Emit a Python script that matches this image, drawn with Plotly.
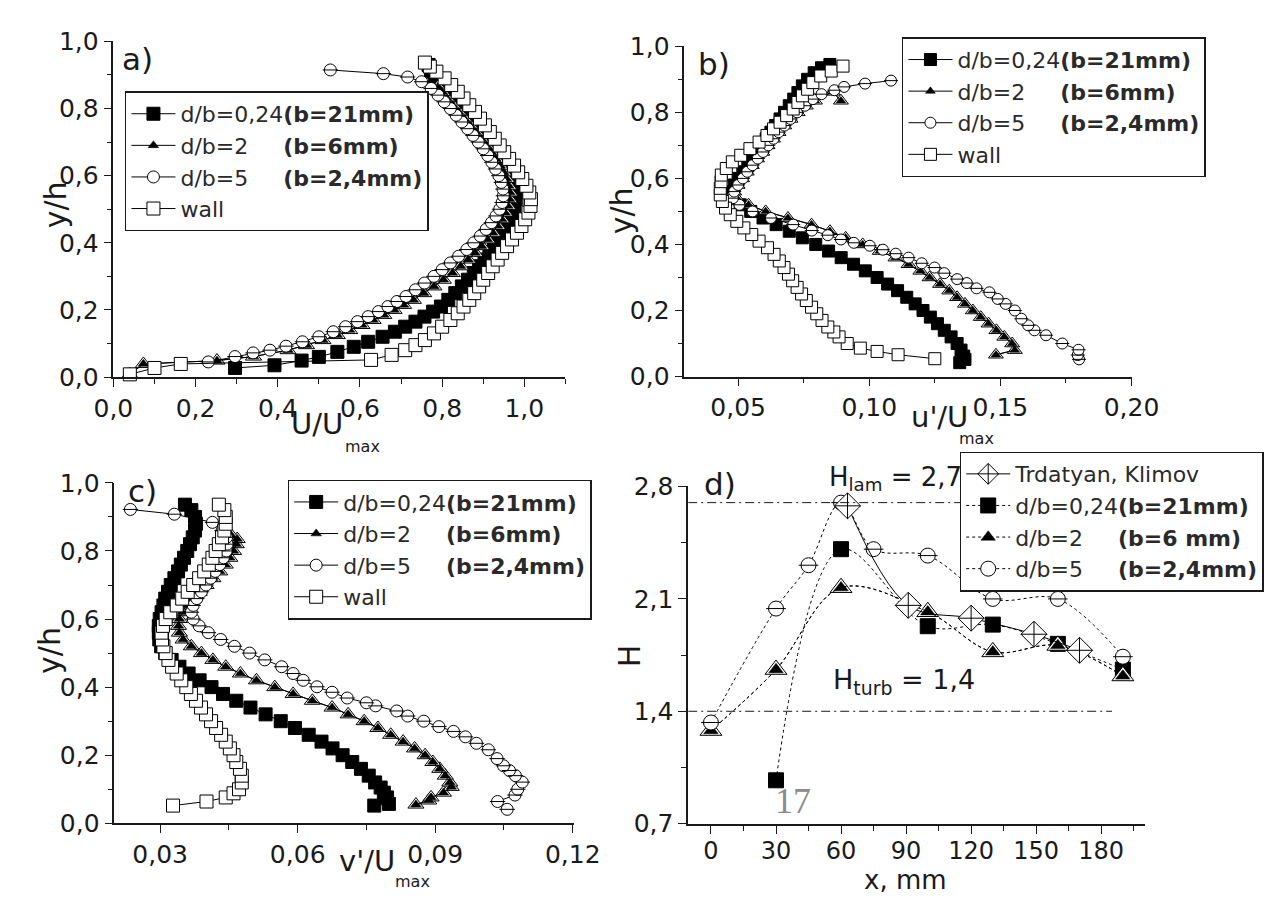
import plotly.graph_objects as go

W, H = 1264, 908
FONT = "DejaVu Sans, Liberation Sans, Arial, sans-serif"
INK = "#1a1a1a"

# ---------------- panel a : U/Umax ----------------
A_SQ_X = [0.296, 0.392, 0.458, 0.50, 0.545, 0.585, 0.62, 0.655, 0.685, 0.71, 0.735, 0.757, 0.778, 0.797, 0.815,
          0.832, 0.848, 0.863, 0.877, 0.89, 0.903, 0.915, 0.926, 0.937, 0.947, 0.956, 0.964, 0.971, 0.976, 0.979,
          0.979, 0.976, 0.97, 0.962, 0.953, 0.943, 0.932, 0.92, 0.907, 0.893, 0.879, 0.865, 0.85, 0.836, 0.822,
          0.808, 0.795, 0.783, 0.773, 0.767]
A_SQ_Y = [0.027, 0.035, 0.049, 0.06, 0.075, 0.09, 0.105, 0.12, 0.135, 0.15, 0.165, 0.18, 0.195, 0.21, 0.23,
          0.25, 0.27, 0.29, 0.31, 0.33, 0.35, 0.37, 0.39, 0.41, 0.43, 0.45, 0.47, 0.49, 0.51, 0.53,
          0.55, 0.57, 0.59, 0.61, 0.63, 0.65, 0.67, 0.69, 0.71, 0.73, 0.75, 0.77, 0.79, 0.81, 0.83,
          0.85, 0.87, 0.89, 0.91, 0.93]
A_TRI_X = [0.04, 0.073, 0.252, 0.341, 0.425, 0.47, 0.51, 0.545, 0.575, 0.605, 0.632, 0.658, 0.683, 0.706, 0.73,
           0.755, 0.78, 0.803, 0.825, 0.845, 0.863, 0.88, 0.896, 0.91, 0.923, 0.935, 0.945, 0.953, 0.96, 0.964,
           0.965, 0.962, 0.957, 0.95, 0.941, 0.931, 0.92, 0.908, 0.895, 0.882, 0.868, 0.854, 0.84, 0.826, 0.812,
           0.80, 0.79]
A_TRI_Y = [0.008, 0.039, 0.049, 0.061, 0.08, 0.095, 0.11, 0.125, 0.14, 0.155, 0.17, 0.185, 0.20, 0.215, 0.23,
           0.25, 0.27, 0.29, 0.31, 0.33, 0.35, 0.37, 0.39, 0.41, 0.43, 0.45, 0.47, 0.49, 0.51, 0.53,
           0.55, 0.57, 0.59, 0.61, 0.63, 0.65, 0.67, 0.69, 0.71, 0.73, 0.75, 0.77, 0.79, 0.81, 0.83,
           0.85, 0.865]
A_CIR_X = [0.231, 0.296, 0.34, 0.381, 0.42, 0.46, 0.50, 0.535, 0.565, 0.594, 0.62, 0.645, 0.668, 0.69, 0.712,
           0.735, 0.757, 0.78, 0.80, 0.82, 0.84, 0.86, 0.877, 0.893, 0.907, 0.92, 0.931, 0.94, 0.946, 0.949,
           0.948, 0.944, 0.938, 0.93, 0.921, 0.911, 0.90, 0.888, 0.875, 0.862, 0.848, 0.834, 0.82, 0.805, 0.79,
           0.773, 0.75, 0.716, 0.657, 0.528]
A_CIR_Y = [0.045, 0.061, 0.072, 0.08, 0.092, 0.105, 0.12, 0.135, 0.15, 0.165, 0.18, 0.195, 0.21, 0.225, 0.24,
           0.26, 0.28, 0.30, 0.32, 0.34, 0.36, 0.38, 0.40, 0.42, 0.44, 0.46, 0.48, 0.50, 0.52, 0.54,
           0.56, 0.58, 0.60, 0.62, 0.64, 0.66, 0.68, 0.70, 0.72, 0.74, 0.76, 0.78, 0.80, 0.82, 0.84,
           0.86, 0.88, 0.894, 0.904, 0.915]
A_WALL_X = [0.04, 0.10, 0.164, 0.627, 0.677, 0.71, 0.735, 0.758, 0.78, 0.80, 0.82, 0.838, 0.852, 0.866, 0.878,
            0.89, 0.90, 0.912, 0.923, 0.935, 0.946, 0.958, 0.97, 0.982, 0.993, 1.002, 1.01, 1.015, 1.016, 1.012,
            1.005, 0.995, 0.985, 0.975, 0.963, 0.951, 0.94, 0.928, 0.916, 0.904, 0.892, 0.88, 0.866, 0.852, 0.838,
            0.822, 0.806, 0.786, 0.77, 0.758]
A_WALL_Y = [0.008, 0.027, 0.039, 0.051, 0.066, 0.08, 0.095, 0.11, 0.13, 0.15, 0.17, 0.19, 0.21, 0.23, 0.25,
            0.27, 0.29, 0.31, 0.33, 0.35, 0.37, 0.39, 0.41, 0.43, 0.45, 0.47, 0.49, 0.51, 0.53, 0.55,
            0.57, 0.59, 0.61, 0.63, 0.65, 0.67, 0.69, 0.71, 0.73, 0.75, 0.77, 0.79, 0.81, 0.83, 0.85,
            0.87, 0.89, 0.91, 0.925, 0.937]

# ---------------- panel b : u'/Umax ----------------
B_SQ_X = [0.1345, 0.1365, 0.136, 0.135, 0.1335, 0.1312, 0.1286, 0.126, 0.1233, 0.1205, 0.1175, 0.1143, 0.1108,
          0.107, 0.103, 0.0985, 0.094, 0.0893, 0.0845, 0.0796, 0.0745, 0.0695, 0.0645, 0.0595, 0.0548, 0.0508,
          0.0478, 0.0475, 0.0485, 0.050, 0.0518, 0.0537, 0.0555, 0.0573, 0.059, 0.0607, 0.0625, 0.0643, 0.066,
          0.0677, 0.0695, 0.0712, 0.0728, 0.0745, 0.0765, 0.079, 0.0818, 0.085]
B_SQ_Y = [0.042, 0.052, 0.062, 0.08, 0.10, 0.12, 0.14, 0.16, 0.18, 0.20, 0.22, 0.24, 0.26,
          0.28, 0.30, 0.32, 0.34, 0.36, 0.38, 0.40, 0.42, 0.44, 0.46, 0.48, 0.50, 0.52,
          0.54, 0.56, 0.58, 0.60, 0.62, 0.64, 0.66, 0.68, 0.70, 0.72, 0.74, 0.76, 0.78,
          0.80, 0.82, 0.84, 0.86, 0.88, 0.90, 0.92, 0.935, 0.945]
B_TRI_X = [0.1483, 0.1555, 0.1545, 0.1515, 0.1485, 0.1455, 0.1425, 0.1395, 0.1365, 0.1335, 0.1305, 0.127, 0.123,
           0.1195, 0.115, 0.110, 0.104, 0.0975, 0.091, 0.085, 0.078, 0.069, 0.0605, 0.054, 0.0495, 0.0485,
           0.0498, 0.0515, 0.0533, 0.0552, 0.0572, 0.0592, 0.0612, 0.0633, 0.0654, 0.0676, 0.070, 0.0727,
           0.0758, 0.0793, 0.0861, 0.0892]
B_TRI_Y = [0.066, 0.08, 0.10, 0.12, 0.14, 0.16, 0.18, 0.20, 0.22, 0.24, 0.26, 0.28, 0.30,
           0.32, 0.34, 0.36, 0.38, 0.40, 0.42, 0.44, 0.46, 0.48, 0.50, 0.52, 0.54, 0.56,
           0.58, 0.60, 0.62, 0.64, 0.66, 0.68, 0.70, 0.72, 0.74, 0.76, 0.78, 0.80,
           0.82, 0.835, 0.862, 0.835]
B_CIR_X = [0.180, 0.1795, 0.1798, 0.1736, 0.1674, 0.163, 0.1606, 0.158, 0.1555, 0.152, 0.149, 0.1458, 0.1409,
           0.1372, 0.1335, 0.1286, 0.1249, 0.12, 0.115, 0.1101, 0.1052, 0.1002, 0.0941, 0.0892, 0.0842, 0.0781,
           0.071, 0.0625, 0.0555, 0.0505, 0.048, 0.0485, 0.050, 0.0518, 0.0535, 0.0555, 0.0575, 0.0595, 0.0615,
           0.0635, 0.0655, 0.0677, 0.070, 0.0725, 0.0755, 0.0785, 0.0818, 0.0867, 0.0904, 0.0984, 0.1083]
B_CIR_Y = [0.052, 0.065, 0.081, 0.10, 0.125, 0.14, 0.155, 0.175, 0.20, 0.22, 0.235, 0.255, 0.267,
           0.283, 0.295, 0.313, 0.33, 0.343, 0.36, 0.372, 0.384, 0.396, 0.405, 0.415, 0.428, 0.442,
           0.46, 0.48, 0.50, 0.52, 0.54, 0.56, 0.58, 0.60, 0.62, 0.64, 0.66, 0.68, 0.70,
           0.72, 0.74, 0.76, 0.78, 0.80, 0.82, 0.84, 0.855, 0.867, 0.877, 0.887, 0.896]
B_WALL_X = [0.125, 0.111, 0.103, 0.0966, 0.0916, 0.0885, 0.0865, 0.0842, 0.082, 0.080, 0.078, 0.076, 0.0742,
            0.0725, 0.0708, 0.0692, 0.0675, 0.0657, 0.0637, 0.0612, 0.058, 0.0552, 0.0522, 0.0495, 0.047, 0.0452,
            0.044, 0.0432, 0.0432, 0.0435, 0.0436, 0.0455, 0.0478, 0.051, 0.0545, 0.058, 0.061, 0.0635, 0.066,
            0.0685, 0.071, 0.0728, 0.0745, 0.0765, 0.0785, 0.0815, 0.0855, 0.090]
B_WALL_Y = [0.054, 0.066, 0.076, 0.086, 0.10, 0.12, 0.135, 0.15, 0.17, 0.19, 0.21, 0.23, 0.25,
            0.27, 0.29, 0.31, 0.33, 0.35, 0.37, 0.39, 0.41, 0.43, 0.45, 0.47, 0.49, 0.51,
            0.53, 0.55, 0.57, 0.59, 0.61, 0.63, 0.65, 0.67, 0.69, 0.71, 0.73, 0.75, 0.77,
            0.79, 0.81, 0.83, 0.85, 0.87, 0.89, 0.91, 0.925, 0.94]

# ---------------- panel c : v'/Umax ----------------
C_SQ_X = [0.0767, 0.0799, 0.0795, 0.0788, 0.0781, 0.0769, 0.0755, 0.0738, 0.0719, 0.0698, 0.0676, 0.0652,
          0.0624, 0.0594, 0.0563, 0.053, 0.0497, 0.0466, 0.0437, 0.0412, 0.0386, 0.0362, 0.0342, 0.0325,
          0.0311, 0.0302, 0.0298, 0.0297, 0.0297, 0.0299, 0.0303, 0.0307, 0.0311, 0.0317, 0.0323, 0.0331,
          0.0339, 0.0345, 0.0352, 0.0359, 0.0365, 0.0371, 0.0376, 0.0378, 0.0376, 0.0368, 0.0354]
C_SQ_Y = [0.052, 0.057, 0.076, 0.09, 0.105, 0.12, 0.14, 0.16, 0.18, 0.20, 0.22, 0.24,
          0.26, 0.28, 0.30, 0.32, 0.34, 0.36, 0.38, 0.40, 0.42, 0.44, 0.46, 0.48,
          0.50, 0.52, 0.54, 0.56, 0.58, 0.60, 0.62, 0.64, 0.66, 0.68, 0.70, 0.72,
          0.74, 0.76, 0.78, 0.80, 0.82, 0.84, 0.86, 0.88, 0.90, 0.92, 0.936]
C_TRI_X = [0.0858, 0.0886, 0.0891, 0.0918, 0.0935, 0.0932, 0.0922, 0.091, 0.0895, 0.0878, 0.0855, 0.083,
           0.0803, 0.0775, 0.0745, 0.071, 0.0675, 0.0632, 0.059, 0.055, 0.051, 0.0475, 0.0443, 0.0415,
           0.039, 0.0368, 0.035, 0.0342, 0.034, 0.0342, 0.0348, 0.0357, 0.0372, 0.0385, 0.040, 0.0415,
           0.043, 0.0442, 0.0452, 0.046, 0.0466, 0.0468, 0.0455]
C_TRI_Y = [0.055, 0.067, 0.076, 0.09, 0.107, 0.12, 0.14, 0.16, 0.18, 0.20, 0.22, 0.24,
           0.26, 0.28, 0.30, 0.32, 0.34, 0.36, 0.38, 0.40, 0.42, 0.44, 0.46, 0.48,
           0.50, 0.52, 0.54, 0.56, 0.58, 0.60, 0.62, 0.64, 0.66, 0.68, 0.70, 0.72,
           0.74, 0.76, 0.78, 0.80, 0.82, 0.835, 0.846]
C_CIR_X = [0.1057, 0.1036, 0.1074, 0.108, 0.109, 0.1075, 0.1062, 0.1049, 0.1035, 0.1016, 0.099, 0.0966,
           0.094, 0.0908, 0.0875, 0.084, 0.0816, 0.077, 0.075, 0.0708, 0.0675, 0.0642, 0.0612, 0.059,
           0.0565, 0.0528, 0.0495, 0.0462, 0.0432, 0.0405, 0.0385, 0.0372, 0.0368, 0.0372, 0.038, 0.039,
           0.040, 0.041, 0.042, 0.043, 0.0438, 0.0444, 0.0446, 0.0445, 0.0435, 0.0414, 0.0331, 0.0235]
C_CIR_Y = [0.041, 0.064, 0.083, 0.10, 0.121, 0.14, 0.155, 0.169, 0.19, 0.216, 0.235, 0.254,
           0.27, 0.284, 0.30, 0.315, 0.33, 0.345, 0.354, 0.368, 0.385, 0.401, 0.42, 0.44,
           0.46, 0.48, 0.50, 0.52, 0.54, 0.56, 0.58, 0.60, 0.62, 0.64, 0.66, 0.68,
           0.70, 0.72, 0.74, 0.76, 0.78, 0.80, 0.82, 0.84, 0.86, 0.884, 0.908, 0.922]
C_WALL_X = [0.0328, 0.0401, 0.0443, 0.046, 0.0472, 0.0478, 0.0478, 0.0474, 0.0466, 0.046, 0.0452, 0.0443,
            0.0433, 0.0422, 0.0411, 0.040, 0.0389, 0.0378, 0.0367, 0.0357, 0.0346, 0.0336, 0.0326, 0.0318,
            0.0312, 0.0307, 0.0304, 0.0303, 0.0306, 0.0312, 0.0322, 0.0336, 0.0348, 0.036, 0.0372, 0.0385,
            0.0396, 0.0406, 0.0414, 0.0421, 0.0428, 0.0435, 0.044, 0.0443, 0.0443, 0.044, 0.0428]
C_WALL_Y = [0.052, 0.064, 0.076, 0.088, 0.10, 0.12, 0.14, 0.16, 0.18, 0.20, 0.22, 0.24,
            0.26, 0.28, 0.30, 0.32, 0.34, 0.36, 0.38, 0.40, 0.42, 0.44, 0.46, 0.48,
            0.50, 0.52, 0.54, 0.56, 0.58, 0.60, 0.62, 0.64, 0.66, 0.68, 0.70, 0.72,
            0.74, 0.76, 0.78, 0.80, 0.82, 0.84, 0.86, 0.88, 0.90, 0.92, 0.936]

# ---------------- panel d : shape factor H ----------------
D_TK_X = [63, 91, 120, 149, 170]
D_TK_H = [2.68, 2.06, 1.98, 1.88, 1.78]
D_SQ_X = [30, 60, 100, 130, 160, 190]
D_SQ_H = [0.97, 2.41, 1.93, 1.94, 1.82, 1.66]
D_TRI_X = [0, 30, 60, 100, 130, 160, 190]
D_TRI_H = [1.28, 1.66, 2.17, 2.02, 1.77, 1.81, 1.62]
D_CIR_X = [0, 30, 45, 60, 75, 100, 130, 160, 190]
D_CIR_H = [1.33, 2.04, 2.31, 2.70, 2.41, 2.37, 2.10, 2.10, 1.74]
H_LAM = 2.7
H_TURB = 1.4
H_LINE_X = [-10.5, 185]

NB = "\u00a0"
NAMES_ABC = ["d/b=0,24<b>(b=21mm)</b>",
             "d/b=2" + NB * 5 + "<b>(b=6mm)</b>",
             "d/b=5" + NB * 5 + "<b>(b=2,4mm)</b>",
             "wall"]
NAMES_D = ["Trdatyan, Klimov",
           "d/b=0,24<b>(b=21mm)</b>",
           "d/b=2" + NB * 5 + "<b>(b=6 mm)</b>",
           "d/b=5" + NB * 5 + "<b>(b=2,4mm)</b>"]

fig = go.Figure()


def add_series(x, y, kind, ax, legend, name, size, dash="solid", shape="linear", rank=None):
    xa, ya = ax
    line = dict(color="black", width=1, dash=dash, shape=shape, smoothing=1.0)
    common = dict(x=x, y=y, xaxis=xa, yaxis=ya, legend=legend, name=name, cliponaxis=False)
    if rank is not None:
        common["legendrank"] = rank
    if kind == "sq":
        fig.add_trace(go.Scatter(mode="lines+markers", line=line,
                                 marker=dict(symbol="square", size=size, color="black",
                                             line=dict(color="black", width=1)), **common))
    elif kind == "osq":
        fig.add_trace(go.Scatter(mode="lines+markers", line=line,
                                 marker=dict(symbol="square", size=size, color="white",
                                             line=dict(color="black", width=1)), **common))
    elif kind == "tri":
        c2 = dict(common)
        c2["showlegend"] = False
        fig.add_trace(go.Scatter(mode="lines+markers", line=line,
                                 marker=dict(symbol="triangle-up", size=size, color="white",
                                             line=dict(color="black", width=1)), **c2))
        fig.add_trace(go.Scatter(mode="lines+markers", line=line,
                                 marker=dict(symbol="triangle-up", size=size * 0.66, color="black",
                                             line=dict(color="black", width=0.5)), **common))
    elif kind == "cir":
        fig.add_trace(go.Scatter(mode="lines+markers", line=line,
                                 marker=dict(symbol="circle", size=size, color="white",
                                             line=dict(color="black", width=1)), **common))
        c2 = dict(common)
        c2["showlegend"] = False
        fig.add_trace(go.Scatter(mode="markers",
                                 marker=dict(symbol="line-ew", size=size - 1, color="black",
                                             line=dict(color="black", width=1)), **c2))
    elif kind == "dia":
        fig.add_trace(go.Scatter(mode="lines+markers", line=line,
                                 marker=dict(symbol="diamond-cross", size=size, color="white",
                                             line=dict(color="black", width=1)), **common))


# panel a
add_series(A_SQ_X, A_SQ_Y, "sq", ("x", "y"), "legend", NAMES_ABC[0], 13)
add_series(A_TRI_X, A_TRI_Y, "tri", ("x", "y"), "legend", NAMES_ABC[1], 14)
add_series(A_CIR_X, A_CIR_Y, "cir", ("x", "y"), "legend", NAMES_ABC[2], 12)
add_series(A_WALL_X, A_WALL_Y, "osq", ("x", "y"), "legend", NAMES_ABC[3], 13)
# panel b
add_series(B_SQ_X, B_SQ_Y, "sq", ("x2", "y2"), "legend2", NAMES_ABC[0], 12)
add_series(B_TRI_X, B_TRI_Y, "tri", ("x2", "y2"), "legend2", NAMES_ABC[1], 13)
add_series(B_CIR_X, B_CIR_Y, "cir", ("x2", "y2"), "legend2", NAMES_ABC[2], 11)
add_series(B_WALL_X, B_WALL_Y, "osq", ("x2", "y2"), "legend2", NAMES_ABC[3], 12)
# panel c
add_series(C_SQ_X, C_SQ_Y, "sq", ("x3", "y3"), "legend3", NAMES_ABC[0], 13)
add_series(C_TRI_X, C_TRI_Y, "tri", ("x3", "y3"), "legend3", NAMES_ABC[1], 14)
add_series(C_CIR_X, C_CIR_Y, "cir", ("x3", "y3"), "legend3", NAMES_ABC[2], 12)
add_series(C_WALL_X, C_WALL_Y, "osq", ("x3", "y3"), "legend3", NAMES_ABC[3], 13)
# panel d
add_series(D_SQ_X, D_SQ_H, "sq", ("x4", "y4"), "legend4", NAMES_D[1], 15, dash="dot", shape="spline", rank=2)
add_series(D_TRI_X, D_TRI_H, "tri", ("x4", "y4"), "legend4", NAMES_D[2], 19, dash="dot", shape="spline", rank=3)
add_series(D_CIR_X, D_CIR_H, "cir", ("x4", "y4"), "legend4", NAMES_D[3], 15, dash="dot", shape="spline", rank=4)
add_series(D_TK_X, D_TK_H, "dia", ("x4", "y4"), "legend4", NAMES_D[0], 20, dash="solid", shape="spline", rank=1)

# reference levels
for lvl in (H_LAM, H_TURB):
    fig.add_trace(go.Scatter(x=H_LINE_X, y=[lvl, lvl], mode="lines", xaxis="x4", yaxis="y4",
                             line=dict(color=INK, width=1, dash="9px,4px,2px,4px"), showlegend=False,
                             hoverinfo="skip"))


def px_x(v):
    return v / W


def px_y(v):
    return 1 - v / H


def axis(domain, rng, dtick, mdtick, fmt, anchor, tick0=0, fsize=25, standoff=None):
    d = dict(domain=domain, range=rng, dtick=dtick, tick0=tick0, tickformat=fmt, anchor=anchor,
             showline=True, linecolor=INK, linewidth=1.5, ticks="outside", ticklen=8, tickwidth=1.2,
             tickcolor=INK, showgrid=False, zeroline=False,
             tickfont=dict(family=FONT, size=fsize, color=INK),
             minor=dict(dtick=mdtick, tick0=tick0, ticks="outside", ticklen=5, tickwidth=1, tickcolor=INK))
    if standoff is not None:
        d["ticklabelstandoff"] = standoff
    return d


leg_common = dict(xanchor="left", yanchor="top", bgcolor="white", bordercolor=INK, borderwidth=1.5,
                  font=dict(family=FONT, size=22, color="#2a2a2a"), itemwidth=44, tracegroupgap=2,
                  traceorder="normal")

layout = dict(
    width=W, height=H, margin=dict(l=0, r=0, t=0, b=0), paper_bgcolor="white", plot_bgcolor="white",
    separators=", ", showlegend=True,
    xaxis=axis([px_x(97), px_x(566.5)], [0, 1.1], 0.2, 0.1, ".1f", "y"),
    yaxis=axis([px_y(375), px_y(28)], [0, 1.001], 0.2, 0.1, ".1f", "x"),
    xaxis2=axis([px_x(690), px_x(1155)], [0.0295, 0.2002], 0.05, 0.025, ".2f", "y2"),
    yaxis2=axis([px_y(374.5), px_y(33)], [0, 1.001], 0.2, 0.1, ".1f", "x2"),
    xaxis3=axis([px_x(98), px_x(575)], [0.02, 0.1202], 0.03, 0.015, ".2f", "y3"),
    yaxis3=axis([px_y(836), px_y(484)], [0, 1.001], 0.2, 0.1, ".1f", "x3"),
    xaxis4=axis([px_x(694), px_x(1168)], [-10.5, 200], 30, 15, "d", "y4", fsize=24, standoff=-3),
    yaxis4=axis([px_y(836.5), px_y(488)], [0.699, 2.801], 0.7, 0.35, ".1f", "x4", tick0=0.7),
    legend=dict(x=px_x(109), y=px_y(80), **leg_common),
    legend2=dict(x=px_x(916), y=px_y(24), **leg_common),
    legend3=dict(x=px_x(278), y=px_y(481), **leg_common),
    legend4=dict(x=px_x(976), y=px_y(452), **leg_common),
)
fig.update_layout(**layout)


def note(text, x, y, size, angle=0, xanchor="center", color=INK, family=FONT):
    fig.add_annotation(text=text, x=px_x(x), y=px_y(y), xref="paper", yref="paper", showarrow=False,
                       xanchor=xanchor, yanchor="middle", textangle=angle,
                       font=dict(family=family, size=size, color=color))


# panel labels
note("a)", 122, 47, 31)
note("b)", 721, 52, 31)
note("c)", 127, 493, 31)
note("d)", 727, 486, 31)
# axis titles
note("y/h", 37, 197, 30, angle=-90)
note("y/h", 625, 203, 30, angle=-90)
note("y/h", 30, 657, 30, angle=-90)
note("H", 633, 663, 30, angle=-90)
note("U/U", 308, 424, 29)
note("max", 356, 447, 16)
note("u'/U", 955, 416, 29)
note("max", 993, 438, 16)
note("v'/U", 360, 875, 29)
note("max", 408, 896, 16)
note("x, mm", 920, 895, 26)
# panel d texts
note("H<sub>lam</sub> = 2,7", 838, 480, 26, xanchor="left")
note("H<sub>turb</sub> = 1,4", 842, 690, 27, xanchor="left")
note("17", 803, 813, 36, color="#8c8c8c", family="Liberation Serif, Times New Roman, serif")

fig.write_html("out.html", config={"displayModeBar": False},
               post_script="document.body.style.margin='0';document.body.style.overflow='hidden';")
